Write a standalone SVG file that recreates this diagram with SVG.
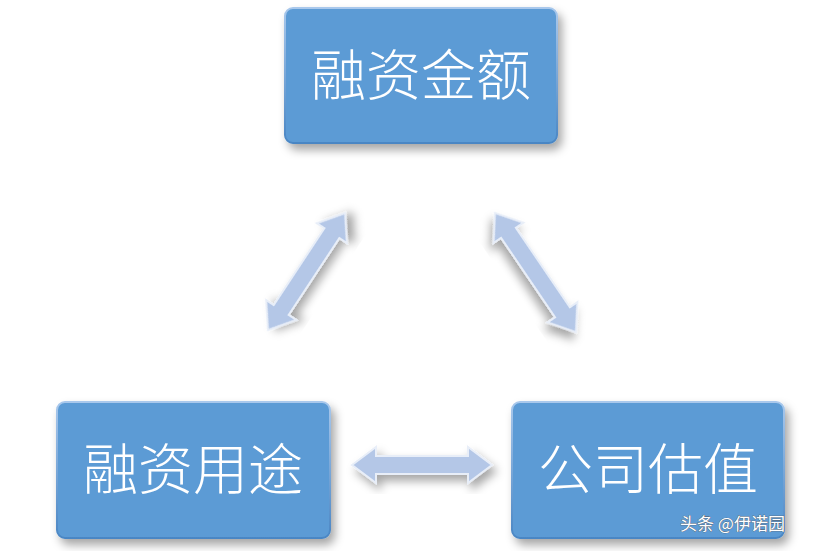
<svg xmlns="http://www.w3.org/2000/svg" width="825" height="551" viewBox="0 0 825 551">
<defs>
<filter id="sh" x="-20%" y="-20%" width="140%" height="150%"><feDropShadow dx="4" dy="6" stdDeviation="5" flood-color="#000" flood-opacity="0.35"/></filter>
<linearGradient id="bd" x1="0" y1="0" x2="0" y2="1"><stop offset="0" stop-color="#a9c8ec"/><stop offset="1" stop-color="#4a86c4"/></linearGradient>
</defs>
<style>
.box{fill:#5b9bd5;stroke:url(#bd);stroke-width:2;filter:url(#sh)}
.t{font-family:"Noto Sans CJK SC",sans-serif;font-size:55px;font-weight:300;fill:#fff;text-anchor:middle}
.ar{fill:#b4c7e7;stroke:#e8eef8;stroke-width:2;filter:url(#sh)}
</style>
<rect width="825" height="551" fill="#fff"/>
<g id="n1"><rect class="box" x="285" y="8" width="272" height="135" rx="8"/><text class="t" x="421" y="95">融资金额</text></g>
<g id="n2"><rect class="box" x="57" y="402" width="273" height="136" rx="8"/><text class="t" x="193" y="489">融资用途</text></g>
<g id="n3"><rect class="box" x="512" y="402" width="272" height="136" rx="8"/><text class="t" x="648" y="489">公司估值</text></g>
<g id="connectors">
<polygon class="ar" transform="translate(352,465)" points="0,0 24,-18 24,-9 116,-9 116,-18 140,0 116,18 116,9 24,9 24,18"/>
<polygon class="ar" transform="translate(268,330) rotate(-56.6)" points="0,0 24,-18 24,-9 116,-9 116,-18 140,0 116,18 116,9 24,9 24,18"/>
<polygon class="ar" transform="translate(495,213) rotate(55.8)" points="0,0 24,-18 24,-9 120,-9 120,-18 144,0 120,18 120,9 24,9 24,18"/>
</g>
<text x="680" y="530" font-family="Noto Sans CJK SC,sans-serif" font-size="17" fill="#fff" stroke="#555" stroke-width="0.6" paint-order="stroke">头条 @伊诺园</text>
</svg>
